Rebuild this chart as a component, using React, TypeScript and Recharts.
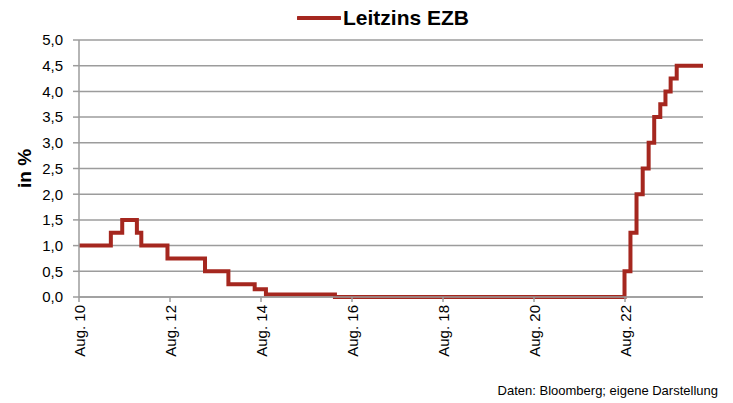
import { CartesianGrid, Legend, Line, LineChart, XAxis, YAxis } from "recharts"

// ECB main refinancing rate: decision dates and new rate in %
const changeDates = [
  "2010-08-01",
  "2011-04-13",
  "2011-07-13",
  "2011-11-09",
  "2011-12-14",
  "2012-07-11",
  "2013-05-08",
  "2013-11-13",
  "2014-06-11",
  "2014-09-10",
  "2016-03-16",
  "2022-07-27",
  "2022-09-14",
  "2022-11-02",
  "2022-12-21",
  "2023-02-08",
  "2023-03-22",
  "2023-05-10",
  "2023-06-21",
  "2023-08-02",
  "2023-09-20",
]
const rates = [
  1.0, 1.25, 1.5, 1.25, 1.0, 0.75, 0.5, 0.25, 0.15, 0.05, 0.0, 0.5, 1.25, 2.0, 2.5, 3.0, 3.5, 3.75, 4.0,
  4.25, 4.5,
]
const endDate = "2024-04-18"

const xTicks = [0, 24, 48, 72, 96, 120, 144]
const xTickLabels = ["Aug. 10", "Aug. 12", "Aug. 14", "Aug. 16", "Aug. 18", "Aug. 20", "Aug. 22"]
const yTicks = [0, 0.5, 1, 1.5, 2, 2.5, 3, 3.5, 4, 4.5, 5]

const FONT = '"Liberation Sans", Arial, sans-serif'
const RED = "#a5271f"
const GRAY = "#9c9c9c"

// months since Aug 2010
const monthIndex = (iso: string) => {
  const [y, m, d] = iso.split("-").map(Number)
  return (y - 2010) * 12 + (m - 8) + (d - 1) / 30
}

const data = [
  ...changeDates.map((d, i) => ({ t: monthIndex(d), rate: rates[i] })),
  { t: monthIndex(endDate), rate: rates[rates.length - 1] },
]

const XTick = (props: any) => {
  const { x, y, payload } = props
  const label = xTickLabels[xTicks.indexOf(payload.value)]
  return (
    <text
      x={x}
      y={y + 1}
      transform={`rotate(-90, ${x}, ${y + 1})`}
      textAnchor="end"
      dominantBaseline="central"
      fontSize={15}
      fontFamily={FONT}
      fill="#000"
    >
      {label}
    </text>
  )
}

const LegendContent = () => (
  <div style={{ display: "flex", alignItems: "center", marginLeft: 297, fontFamily: FONT }}>
    <svg width={44} height={8}>
      <line x1={1} y1={4} x2={43} y2={4} stroke={RED} strokeWidth={4} strokeLinecap="round" />
    </svg>
    <span style={{ fontWeight: "bold", fontSize: 21, marginLeft: 2, color: "#000" }}>Leitzins EZB</span>
  </div>
)

export default function App() {
  return (
    <div style={{ position: "absolute", left: 0, top: 0, width: 733, height: 403, background: "#fff" }}>
      <LineChart width={733} height={403} data={data} margin={{ top: 12, right: 30, bottom: 0, left: 0 }}>
        <CartesianGrid vertical={false} stroke={GRAY} strokeWidth={1.5} />
        <XAxis
          type="number"
          dataKey="t"
          domain={[0, monthIndex(endDate)]}
          ticks={xTicks}
          interval={0}
          tick={<XTick />}
          tickSize={5}
          tickLine={{ stroke: GRAY, strokeWidth: 1.5 }}
          axisLine={{ stroke: GRAY, strokeWidth: 1.5 }}
          height={106}
        />
        <YAxis
          domain={[0, 5]}
          ticks={yTicks}
          interval={0}
          width={79}
          tickSize={6}
          tickMargin={10}
          tickFormatter={(v: number) => v.toFixed(1).replace(".", ",")}
          tick={{ fontSize: 15, fontFamily: FONT, fill: "#000" }}
          tickLine={{ stroke: GRAY, strokeWidth: 1.5 }}
          axisLine={{ stroke: GRAY, strokeWidth: 1.5 }}
          label={{
            content: (p: any) => {
              const vb = p.viewBox
              const cy = vb.y + vb.height / 2
              return (
                <text
                  x={24}
                  y={cy}
                  transform={`rotate(-90, 24, ${cy})`}
                  textAnchor="middle"
                  dominantBaseline="central"
                  fontSize={19}
                  fontWeight="bold"
                  fontFamily={FONT}
                  fill="#000"
                >
                  in %
                </text>
              )
            },
          }}
        />
        <Legend
          verticalAlign="top"
          content={<LegendContent />}
          wrapperStyle={{ position: "absolute", top: 6, left: 0, width: 733, height: 28 }}
        />
        <Line
          type="stepAfter"
          dataKey="rate"
          stroke={RED}
          strokeWidth={4}
          dot={false}
          isAnimationActive={false}
        />
      </LineChart>
      <div
        style={{
          position: "absolute",
          right: 15,
          top: 383,
          fontSize: 13,
          fontFamily: FONT,
          color: "#000",
          whiteSpace: "nowrap",
        }}
      >
        Daten: Bloomberg; eigene Darstellung
      </div>
    </div>
  )
}
